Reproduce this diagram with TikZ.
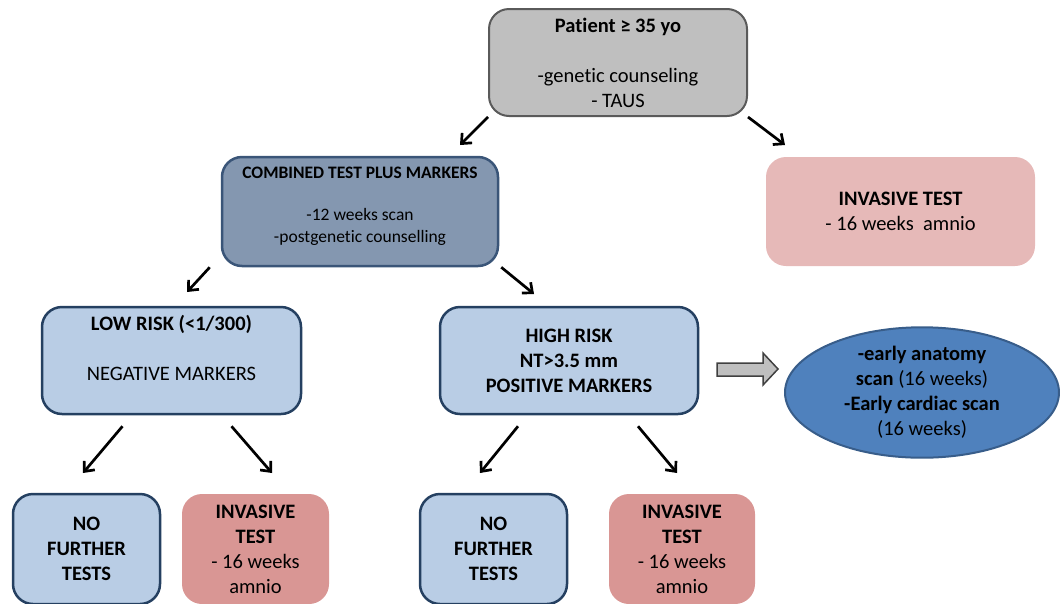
\documentclass[tikz,border=0pt]{standalone}
\usepackage{fontspec}
\setmainfont{Carlito}[Ligatures=NoCommon]
\usetikzlibrary{arrows.meta,shapes.geometric}

\definecolor{topgray}{HTML}{BFBFBF}
\definecolor{topline}{HTML}{5A5A5A}
\definecolor{combfill}{HTML}{8497B0}
\definecolor{combline}{HTML}{3A5578}
\definecolor{lightblue}{HTML}{B9CDE5}
\definecolor{boxline}{HTML}{254061}
\definecolor{pinktop}{HTML}{E6B9B8}
\definecolor{pinkfill}{HTML}{D99694}
\definecolor{ellfill}{HTML}{4F81BD}
\definecolor{ellline}{HTML}{385D8A}
\definecolor{arrgray}{HTML}{BFBFBF}
\definecolor{arrline}{HTML}{404040}

\begin{document}
\begin{tikzpicture}[x=1pt, y=-1pt,
    every node/.style={font=\fontsize{20.5}{25}\selectfont},
    box/.style={rectangle, rounded corners=20pt, align=center, inner sep=2pt},
    bluebox/.style={box, draw=boxline, line width=2.5pt, fill=lightblue},
    pinkbox/.style={box, fill=pinkfill},
    arr/.style={-{Straight Barb[length=8pt,width=14pt]}, line width=2.7pt}]
    \useasboundingbox (0,0) rectangle (1060,603);

    % Top level
    \node[box, draw=topline, line width=2pt, fill=topgray, minimum width=258pt, minimum height=107pt] (patient) at (618,62.5) {
        \textbf{Patient ≥ 35 yo}\\[25pt]-genetic counseling\\- TAUS
    };

    % Second level
    \node[box, draw=combline, line width=2.5pt, fill=combfill, minimum width=276pt, minimum height=109pt, font=\fontsize{17.5}{22}\selectfont] (combined) at (360,211.5) {
        \textbf{COMBINED TEST PLUS MARKERS}\\[20pt]-12 weeks scan\\-postgenetic counselling\\[-8pt]\mbox{}
    };
    \node[box, fill=pinktop, minimum width=269pt, minimum height=109pt] (invtop) at (900.5,211.5) {
        \textbf{INVASIVE TEST}\\- 16 weeks~~amnio
    };

    % Risk level
    \node[bluebox, minimum width=259pt, minimum height=107pt] (low) at (171.5,360.5) {
        \textbf{LOW RISK (<1/300)}\\[25pt]NEGATIVE MARKERS\\\mbox{}
    };
    \node[bluebox, minimum width=258pt, minimum height=107pt, font=\fontsize{20.5}{25}\selectfont\bfseries] (high) at (569,360.5) {
        HIGH RISK\\NT>3.5 mm\\POSITIVE MARKERS
    };
    \node[ellipse, draw=ellline, line width=2pt, fill=ellfill, minimum width=274pt, minimum height=126pt, inner sep=0pt, align=center] (early) at (922,392.5) {
        \textbf{-early anatomy}\\\textbf{scan} (16 weeks)\\\textbf{-Early cardiac scan}\\(16 weeks)
    };
    \draw[fill=arrgray, draw=arrline, line width=1.5pt] (717,363) -- (763,363) -- (763,353) -- (778,369) -- (763,385) -- (763,376) -- (717,376) -- cycle;

    % Bottom level
    \node[bluebox, minimum width=147pt, minimum height=110pt, font=\fontsize{20.5}{25}\selectfont\bfseries] (nf1) at (86.5,549) {NO\\FURTHER\\TESTS};
    \node[pinkbox, minimum width=147pt, minimum height=110pt] (inv1) at (255.5,549) {\textbf{INVASIVE}\\\textbf{TEST}\\- 16 weeks\\amnio};
    \node[bluebox, minimum width=147pt, minimum height=110pt, font=\fontsize{20.5}{25}\selectfont\bfseries] (nf2) at (493.5,549) {NO\\FURTHER\\TESTS};
    \node[pinkbox, minimum width=146pt, minimum height=110pt] (inv2) at (682,549) {\textbf{INVASIVE}\\\textbf{TEST}\\- 16 weeks\\amnio};

    % Arrow tips
    \coordinate (tipcomb) at (460,145);
    \coordinate (tipinv) at (785,145);
    \coordinate (tiplow) at (187,292);
    \coordinate (tiphigh) at (534,294);
    \coordinate (tipnf1) at (83,473);
    \coordinate (tipinv1) at (272,473);
    \coordinate (tipnf2) at (480,473);
    \coordinate (tipinv2) at (677,473);

    \draw[arr] (patient.south west) -- (tipcomb);
    \draw[arr] (patient.south east) -- (tipinv);
    \draw[arr] ([xshift=-11pt]combined.south west) -- (tiplow);
    \draw[arr] ([xshift=2pt]combined.south east) -- (tiphigh);
    \draw[arr] ([shift={(-49,11)}]low.south) -- (tipnf1);
    \draw[arr] ([shift={(60,11)}]low.south) -- (tipinv1);
    \draw[arr] ([shift={(-51,11)}]high.south) -- (tipnf2);
    \draw[arr] ([shift={(69,11)}]high.south) -- (tipinv2);
\end{tikzpicture}
\end{document}
